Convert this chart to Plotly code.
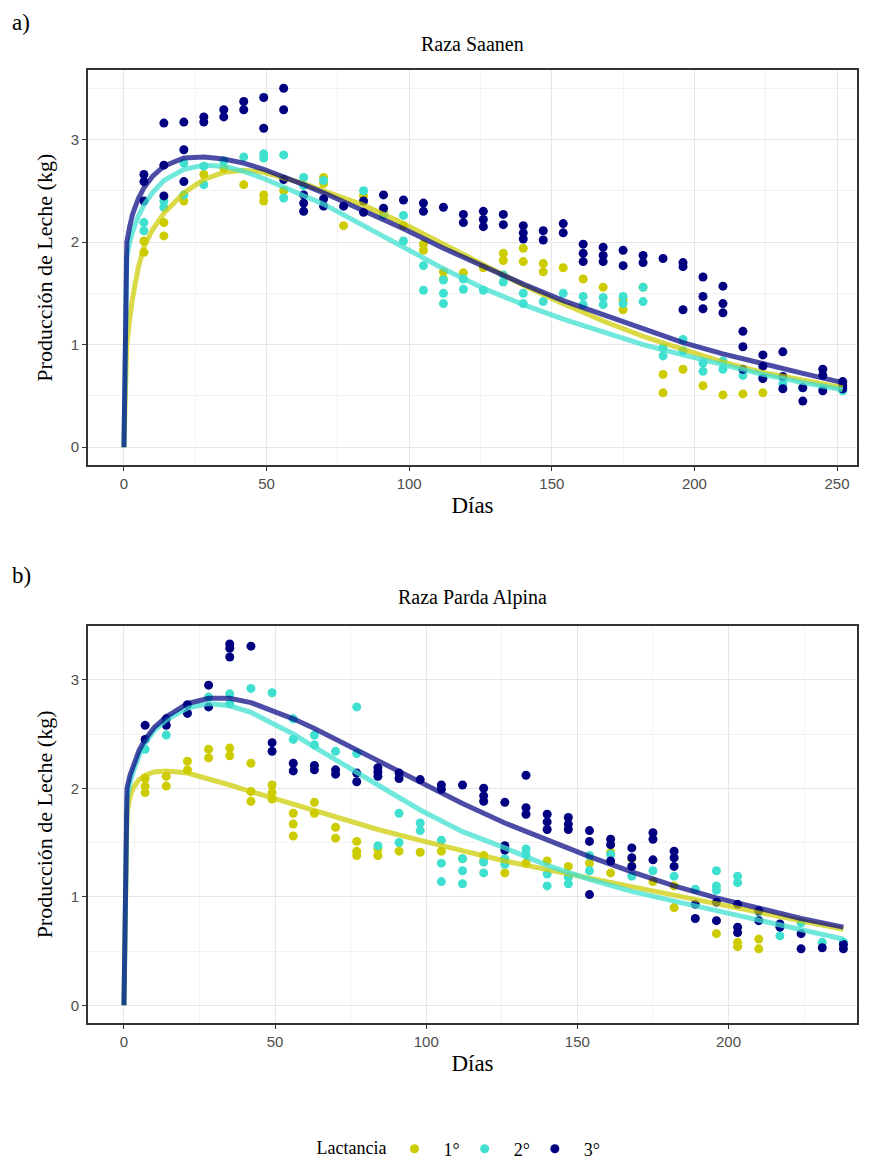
import plotly.graph_objects as go

# ---------------- DATA ----------------
lact_names = ["1°", "2°", "3°"]

# Raza Saanen - observed points (day, kg)
sa_1_days = [7, 7, 14, 14, 21, 28, 35, 42, 49, 49, 56, 70, 70, 77, 84, 91, 98, 105, 105, 112, 112, 119, 126, 133, 133, 140, 140, 147, 147, 154, 161, 168, 175, 175, 182, 189, 189, 196, 203, 210, 217, 224]
sa_1_vals = [2.01, 1.90, 2.19, 2.06, 2.40, 2.66, 2.72, 2.56, 2.46, 2.40, 2.50, 2.63, 2.57, 2.16, 2.45, 2.30, 2.16, 1.98, 1.92, 1.71, 1.64, 1.70, 1.75, 1.89, 1.82, 1.94, 1.81, 1.79, 1.71, 1.75, 1.64, 1.56, 1.44, 1.34, 1.56, 0.71, 0.53, 0.76, 0.60, 0.51, 0.52, 0.53]

sa_2_days = [7, 7, 14, 14, 21, 21, 28, 28, 35, 42, 49, 49, 56, 56, 63, 63, 70, 84, 91, 98, 98, 105, 105, 112, 112, 112, 119, 119, 126, 133, 133, 140, 140, 147, 154, 161, 161, 168, 168, 175, 175, 182, 182, 189, 189, 196, 196, 203, 203, 210, 210, 217, 224, 231, 238, 245, 252]
sa_2_vals = [2.19, 2.11, 2.34, 2.40, 2.77, 2.46, 2.74, 2.56, 2.79, 2.83, 2.86, 2.82, 2.85, 2.43, 2.63, 2.55, 2.60, 2.50, 2.26, 2.26, 2.01, 1.77, 1.53, 1.63, 1.50, 1.40, 1.64, 1.54, 1.53, 1.68, 1.61, 1.50, 1.40, 1.42, 1.50, 1.47, 1.39, 1.46, 1.39, 1.47, 1.40, 1.56, 1.42, 0.97, 0.89, 1.05, 0.94, 0.82, 0.74, 0.84, 0.76, 0.70, 0.68, 0.62, 0.58, 0.58, 0.55]

sa_3_days = [7, 7, 7, 14, 14, 14, 21, 21, 21, 28, 28, 35, 35, 42, 42, 49, 49, 56, 56, 56, 63, 63, 63, 70, 70, 77, 84, 84, 91, 91, 98, 105, 105, 112, 119, 119, 126, 126, 126, 133, 133, 140, 140, 140, 147, 147, 154, 154, 161, 161, 161, 168, 168, 168, 175, 175, 182, 182, 189, 196, 196, 196, 203, 203, 203, 210, 210, 210, 217, 217, 217, 224, 224, 224, 231, 231, 231, 238, 238, 245, 245, 245, 252, 252, 252]
sa_3_vals = [2.66, 2.59, 2.40, 3.16, 2.75, 2.45, 3.17, 2.90, 2.59, 3.22, 3.17, 3.29, 3.22, 3.37, 3.29, 3.41, 3.11, 3.50, 3.29, 2.61, 2.46, 2.38, 2.30, 2.42, 2.35, 2.35, 2.40, 2.29, 2.46, 2.33, 2.41, 2.38, 2.30, 2.34, 2.27, 2.19, 2.30, 2.22, 2.15, 2.27, 2.17, 2.16, 2.09, 2.03, 2.11, 2.02, 2.18, 2.09, 1.98, 1.89, 1.81, 1.95, 1.87, 1.81, 1.92, 1.77, 1.87, 1.80, 1.84, 1.80, 1.76, 1.34, 1.66, 1.47, 1.35, 1.57, 1.40, 1.31, 1.13, 0.98, 0.76, 0.90, 0.79, 0.67, 0.93, 0.69, 0.57, 0.58, 0.45, 0.76, 0.70, 0.55, 0.64, 0.60, 0.57]

# Raza Saanen - fitted curves
sa_curve_days = [0, 1, 2, 3, 5, 7, 10, 14, 21, 28, 35, 42, 49, 56, 63, 70, 84, 98, 112, 126, 140, 154, 168, 182, 196, 210, 224, 238, 252]
sa_curve_1 = [0, 1.00, 1.25, 1.45, 1.75, 1.95, 2.12, 2.28, 2.48, 2.61, 2.68, 2.70, 2.68, 2.63, 2.57, 2.50, 2.36, 2.18, 1.98, 1.78, 1.58, 1.40, 1.23, 1.08, 0.95, 0.83, 0.73, 0.65, 0.58]
sa_curve_2 = [0, 1.85, 2.00, 2.10, 2.25, 2.36, 2.48, 2.60, 2.71, 2.75, 2.74, 2.69, 2.62, 2.54, 2.46, 2.37, 2.16, 1.95, 1.74, 1.55, 1.39, 1.25, 1.12, 1.00, 0.90, 0.80, 0.71, 0.63, 0.56]
sa_curve_3 = [0, 2.00, 2.15, 2.27, 2.42, 2.53, 2.64, 2.74, 2.82, 2.83, 2.81, 2.77, 2.71, 2.64, 2.56, 2.48, 2.31, 2.13, 1.94, 1.76, 1.59, 1.43, 1.29, 1.15, 1.02, 0.91, 0.81, 0.72, 0.63]

# Raza Parda Alpina - observed points
pa_1_days = [7, 7, 7, 14, 14, 21, 21, 28, 28, 35, 35, 42, 42, 42, 49, 49, 49, 56, 56, 56, 63, 63, 70, 70, 77, 77, 77, 84, 84, 91, 98, 105, 112, 119, 119, 126, 133, 140, 147, 154, 161, 161, 168, 175, 182, 182, 196, 203, 203, 210, 210]
pa_1_vals = [2.09, 2.02, 1.96, 2.11, 2.02, 2.25, 2.17, 2.36, 2.28, 2.37, 2.30, 2.23, 1.97, 1.88, 2.03, 1.96, 1.90, 1.77, 1.67, 1.56, 1.87, 1.77, 1.64, 1.54, 1.51, 1.42, 1.38, 1.44, 1.38, 1.42, 1.41, 1.42, 1.35, 1.38, 1.33, 1.22, 1.31, 1.33, 1.28, 1.31, 1.41, 1.22, 1.35, 1.14, 1.10, 0.90, 0.66, 0.58, 0.54, 0.61, 0.52]

pa_2_days = [7, 14, 28, 35, 35, 42, 49, 56, 56, 63, 63, 70, 77, 77, 84, 91, 91, 98, 98, 105, 105, 105, 112, 112, 112, 119, 119, 126, 126, 133, 133, 140, 140, 147, 147, 154, 154, 161, 168, 175, 182, 189, 196, 196, 196, 203, 203, 210, 217, 224, 231, 238]
pa_2_vals = [2.36, 2.49, 2.84, 2.87, 2.78, 2.92, 2.88, 2.64, 2.45, 2.49, 2.40, 2.34, 2.75, 2.32, 1.47, 1.77, 1.50, 1.68, 1.61, 1.52, 1.31, 1.14, 1.35, 1.24, 1.12, 1.32, 1.22, 1.35, 1.30, 1.44, 1.39, 1.21, 1.10, 1.18, 1.12, 1.38, 1.24, 1.39, 1.19, 1.24, 1.19, 1.07, 1.24, 1.10, 1.06, 1.19, 1.13, 0.86, 0.64, 0.76, 0.58, 0.58]

pa_3_days = [7, 7, 14, 14, 21, 21, 28, 28, 35, 35, 35, 42, 49, 49, 56, 56, 63, 63, 70, 70, 77, 77, 84, 84, 84, 91, 91, 98, 105, 105, 112, 119, 119, 119, 126, 126, 126, 133, 133, 133, 140, 140, 140, 147, 147, 147, 154, 154, 154, 161, 161, 161, 168, 168, 168, 175, 175, 175, 182, 182, 182, 189, 189, 196, 196, 203, 203, 203, 210, 210, 217, 217, 224, 224, 231, 238, 238]
pa_3_vals = [2.58, 2.45, 2.64, 2.58, 2.77, 2.69, 2.95, 2.75, 3.33, 3.29, 3.21, 3.31, 2.42, 2.34, 2.23, 2.16, 2.21, 2.17, 2.17, 2.13, 2.14, 2.06, 2.15, 2.19, 2.11, 2.14, 2.09, 2.08, 2.03, 1.99, 2.03, 2.00, 1.93, 1.88, 1.87, 1.47, 1.43, 2.12, 1.82, 1.76, 1.76, 1.69, 1.62, 1.73, 1.67, 1.62, 1.61, 1.51, 1.02, 1.53, 1.48, 1.33, 1.45, 1.36, 1.28, 1.59, 1.53, 1.34, 1.42, 1.36, 1.28, 0.93, 0.80, 0.95, 0.78, 0.93, 0.72, 0.67, 0.87, 0.78, 0.75, 0.72, 0.66, 0.52, 0.53, 0.56, 0.52]

# Raza Parda Alpina - fitted curves
pa_curve_days = [0, 1, 2, 3, 5, 7, 10, 14, 21, 28, 35, 42, 49, 56, 63, 70, 84, 98, 112, 126, 140, 154, 168, 182, 196, 210, 224, 238]
pa_curve_1 = [0, 1.78, 1.92, 2.00, 2.08, 2.12, 2.15, 2.16, 2.14, 2.09, 2.03, 1.97, 1.91, 1.85, 1.79, 1.73, 1.62, 1.52, 1.42, 1.33, 1.25, 1.17, 1.09, 1.01, 0.93, 0.85, 0.77, 0.70]
pa_curve_2 = [0, 1.90, 2.05, 2.15, 2.30, 2.42, 2.53, 2.63, 2.74, 2.78, 2.76, 2.70, 2.60, 2.50, 2.38, 2.26, 2.03, 1.80, 1.60, 1.45, 1.29, 1.16, 1.05, 0.96, 0.87, 0.78, 0.69, 0.61]
pa_curve_3 = [0, 2.00, 2.12, 2.20, 2.35, 2.45, 2.56, 2.66, 2.78, 2.83, 2.83, 2.79, 2.72, 2.64, 2.55, 2.45, 2.25, 2.05, 1.86, 1.68, 1.52, 1.37, 1.23, 1.10, 0.99, 0.89, 0.80, 0.72]

x_ticks_top = [0, 50, 100, 150, 200, 250]
x_ticks_bot = [0, 50, 100, 150, 200]
y_ticks = [0, 1, 2, 3]

# ---------------- STYLE ----------------
pt_colors = ["#CCCC00", "#40E0D0", "#000080"]
ln_colors = ["rgba(204,204,0,0.72)", "rgba(64,224,208,0.75)", "rgba(0,0,128,0.70)"]
serif = "Liberation Serif, Times New Roman, serif"
sans = "Liberation Sans, Arial, sans-serif"

W, H = 870, 1168
def fx(p): return p / W
def fy(p): return 1 - p / H

fig = go.Figure()

panels = [
    ("x", "y", [sa_1_days, sa_2_days, sa_3_days], [sa_1_vals, sa_2_vals, sa_3_vals],
     sa_curve_days, [sa_curve_1, sa_curve_2, sa_curve_3], True),
    ("x2", "y2", [pa_1_days, pa_2_days, pa_3_days], [pa_1_vals, pa_2_vals, pa_3_vals],
     pa_curve_days, [pa_curve_1, pa_curve_2, pa_curve_3], False),
]

for xa, ya, pdays, pvals, cdays, cvals, show in panels:
    for i in range(3):
        fig.add_trace(go.Scatter(
            x=pdays[i], y=pvals[i], mode="markers", xaxis=xa, yaxis=ya,
            marker=dict(color=pt_colors[i], size=9, line=dict(width=0)),
            name="  " + lact_names[i], legendgroup=lact_names[i], showlegend=show))
    for i in range(3):
        fig.add_trace(go.Scatter(
            x=cdays, y=cvals[i], mode="lines", xaxis=xa, yaxis=ya,
            line=dict(color=ln_colors[i], width=5),
            showlegend=False, hoverinfo="skip"))

axis_common = dict(
    showline=True, mirror=True, linecolor="#333333", linewidth=2,
    ticks="outside", ticklen=4, tickcolor="#333333", tickwidth=1,
    showgrid=True, gridcolor="#E6E6E6", gridwidth=1.2, zeroline=False,
    automargin=False,
    tickfont=dict(family=sans, size=15, color="#4D4D4D"),
)
xminor = dict(showgrid=True, gridcolor="#F2F2F2", dtick=25, tick0=25, ticks="")
yminor = dict(showgrid=True, gridcolor="#F2F2F2", dtick=0.5, tick0=0.5, ticks="")
xtitle = dict(text="Días", font=dict(family=serif, size=23, color="black"), standoff=6)
ytitle = dict(text="Producción de Leche (kg)", font=dict(family=serif, size=22, color="black"), standoff=12)

fig.update_layout(
    width=W, height=H, plot_bgcolor="white", paper_bgcolor="white",
    margin=dict(l=0, r=0, t=0, b=0),
    xaxis=dict(axis_common, domain=[fx(88), fx(857)], range=[-12.6, 257],
               tickvals=x_ticks_top, anchor="y", minor=xminor, title=xtitle),
    yaxis=dict(axis_common, domain=[fy(470), fy(71)], range=[-0.175, 3.675],
               tickvals=y_ticks, anchor="x", minor=yminor, title=ytitle),
    xaxis2=dict(axis_common, domain=[fx(88), fx(857)], range=[-11.9, 242.5],
                tickvals=x_ticks_bot, anchor="y2", minor=xminor, title=xtitle),
    yaxis2=dict(axis_common, domain=[fy(1034), fy(632)], range=[-0.167, 3.5],
                tickvals=y_ticks, anchor="x2", minor=yminor, title=ytitle),
    legend=dict(orientation="h", x=fx(460), xanchor="center", y=fy(1161), yanchor="middle",
                title=dict(text="Lactancia", side="left", font=dict(family=serif, size=18, color="black")),
                font=dict(family=serif, size=18, color="black"), itemwidth=30),
    annotations=[
        dict(text="a)", x=fx(10), y=fy(23), xref="paper", yref="paper", showarrow=False,
             xanchor="left", yanchor="middle", font=dict(family=serif, size=23, color="black")),
        dict(text="Raza Saanen", x=fx(472), y=fy(44), xref="paper", yref="paper", showarrow=False,
             xanchor="center", yanchor="middle", font=dict(family=serif, size=20, color="black")),
        dict(text="b)", x=fx(10), y=fy(581), xref="paper", yref="paper", showarrow=False,
             xanchor="left", yanchor="middle", font=dict(family=serif, size=23, color="black")),
        dict(text="Raza Parda Alpina", x=fx(472), y=fy(604), xref="paper", yref="paper", showarrow=False,
             xanchor="center", yanchor="middle", font=dict(family=serif, size=20, color="black")),
    ],
)

fig.write_html("out.html", config={"displayModeBar": False},
               post_script="document.body.style.margin='0';document.body.style.overflow='hidden';")
